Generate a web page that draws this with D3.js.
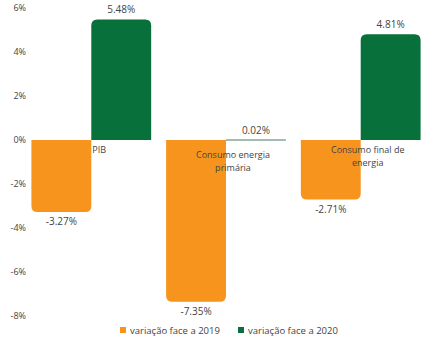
<!DOCTYPE html>
<html>
<head>
<meta charset="utf-8">
<script src="https://cdn.jsdelivr.net/npm/d3@7"></script>
<style>
  body { margin: 0; background: #fff; }
  text { font-family: "Open Sans", "Noto Sans", sans-serif; fill: #444; }
</style>
</head>
<body>
<svg id="chart" width="437" height="354"></svg>
<script>
// data
const categories = ["PIB", "Consumo energia primária", "Consumo final de energia"];
const categoryLines = [["PIB"], ["Consumo energia", "primária"], ["Consumo final de", "energia"]];
const series = ["variação face a 2019", "variação face a 2020"];
const values2019 = [-3.27, -7.35, -2.71];
const values2020 = [5.48, 0.02, 4.81];
const yTicks = [6, 4, 2, 0, -2, -4, -6, -8];

const colors = ["#f7941d", "#08703a"];

const svg = d3.select("svg#chart");

const x0 = d3.scaleBand()
    .domain(categories)
    .range([24, 428])
    .paddingInner(0.111)
    .paddingOuter(0.055);

const x1 = d3.scaleBand()
    .domain(series)
    .range([0, x0.bandwidth()]);

const y = d3.scaleLinear()
    .domain([-8, 6])
    .range([316, 8]);

// y axis labels only
const yAxis = d3.axisLeft(y)
    .tickValues(yTicks)
    .tickFormat(d => d + "%")
    .tickSize(0)
    .tickPadding(0);

svg.append("g")
    .attr("transform", "translate(26,0)")
    .call(yAxis)
    .call(g => g.select(".domain").remove())
    .call(g => g.selectAll("text")
        .style("font-family", "'Open Sans', sans-serif")
        .style("font-size", "9px")
        .attr("fill", "#555"));

const rows = categories.map((c, i) => ({cat: c, vals: [values2019[i], values2020[i]]}));

// bar with rounded outer end
function barPath(x, w, v) {
    const y0 = y(0), y1 = y(v);
    const h = Math.abs(y1 - y0);
    const r = Math.min(6, h, w / 2);
    if (v >= 0) {
        return `M${x},${y0}V${y1 + r}Q${x},${y1} ${x + r},${y1}H${x + w - r}Q${x + w},${y1} ${x + w},${y1 + r}V${y0}Z`;
    }
    return `M${x},${y0}V${y1 - r}Q${x},${y1} ${x + r},${y1}H${x + w - r}Q${x + w},${y1} ${x + w},${y1 - r}V${y0}Z`;
}

const groups = svg.append("g")
    .selectAll("g")
    .data(rows)
    .enter().append("g")
    .attr("transform", d => `translate(${x0(d.cat)},0)`);

groups.selectAll("path")
    .data(d => d.vals.map((v, j) => ({s: series[j], v: v, j: j})))
    .enter().append("path")
    .attr("d", d => {
        if (Math.abs(y(d.v) - y(0)) < 1) return null;
        return barPath(x1(d.s), x1.bandwidth(), d.v);
    })
    .attr("fill", d => colors[d.j]);

// near-zero bars as thin line
groups.selectAll("line.thin")
    .data(d => d.vals.map((v, j) => ({s: series[j], v: v, j: j})).filter(d => Math.abs(y(d.v) - y(0)) < 1))
    .enter().append("line")
    .attr("class", "thin")
    .attr("x1", d => x1(d.s))
    .attr("x2", d => x1(d.s) + x1.bandwidth())
    .attr("y1", y(0))
    .attr("y2", y(0))
    .attr("stroke", "#4a7a62")
    .attr("stroke-width", 1);

// value labels
groups.selectAll("text.val")
    .data(d => d.vals.map((v, j) => ({s: series[j], v: v, j: j})))
    .enter().append("text")
    .attr("class", "val")
    .attr("x", d => x1(d.s) + x1.bandwidth() / 2)
    .attr("y", d => d.v >= 0 ? y(d.v) - 6 : y(d.v) + 13)
    .attr("text-anchor", "middle")
    .style("font-size", "10px")
    .text(d => d.v.toFixed(2) + "%");

// category labels
const labelDy = [0, 5, 0];
groups.each(function(d, i) {
    const t = d3.select(this).append("text")
        .attr("text-anchor", i === 0 ? "start" : "middle")
        .style("font-size", "9px");
    categoryLines[i].forEach((line, k) => {
        t.append("tspan")
            .attr("x", i === 0 ? x0.bandwidth() / 2 + 1 : x0.bandwidth() / 2 + 7)
            .attr("y", y(0) + 13 + labelDy[i] + k * 13)
            .text(line);
    });
});

// legend
const legendX = [120, 238];
const legend = svg.append("g")
    .selectAll("g")
    .data(series)
    .enter().append("g")
    .attr("transform", (d, i) => `translate(${legendX[i]},330)`);

legend.append("rect")
    .attr("x", 0)
    .attr("y", -3)
    .attr("width", 6)
    .attr("height", 6)
    .attr("fill", (d, i) => colors[i]);

legend.append("text")
    .attr("x", 10)
    .attr("y", 4)
    .style("font-size", "9.5px")
    .text(d => d);
</script>
</body>
</html>
